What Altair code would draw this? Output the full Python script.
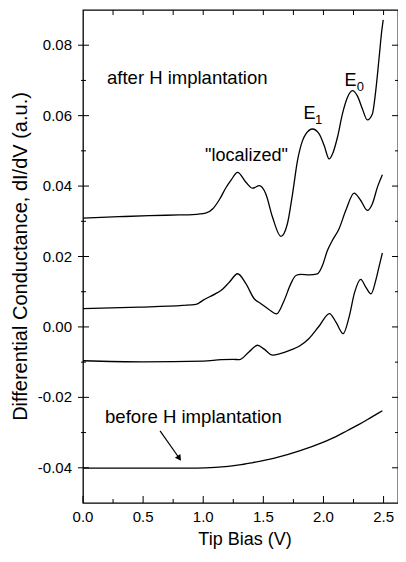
import altair as alt
import pandas as pd

# ---- data: tip bias (V) vs dI/dV (a.u.) ----
after_bias = [0.0, 0.3, 0.55, 0.8, 0.91, 1.02, 1.078, 1.13, 1.19, 1.23, 1.286, 1.355, 1.41, 1.466,
              1.52, 1.576, 1.646, 1.70, 1.743, 1.784, 1.826, 1.854, 1.909, 1.964, 2.006, 2.047,
              2.075, 2.116, 2.158, 2.20, 2.241, 2.282, 2.324, 2.365, 2.407, 2.435, 2.463, 2.485, 2.497]
after_didv = [0.0309, 0.0313, 0.0316, 0.0318, 0.0319, 0.0323, 0.0335, 0.0359, 0.0396, 0.0416, 0.0439,
              0.0411, 0.0394, 0.0401, 0.0378, 0.0312, 0.0257, 0.0293, 0.0378, 0.0472, 0.0529, 0.0548,
              0.0562, 0.0548, 0.0515, 0.0477, 0.0491, 0.0538, 0.0605, 0.0652, 0.0671, 0.0656, 0.0619,
              0.0588, 0.0605, 0.0671, 0.0765, 0.0841, 0.0872]

mid_bias = [0.0, 0.47, 0.83, 0.94, 1.0, 1.1, 1.15, 1.217, 1.286, 1.355, 1.424, 1.48, 1.549, 1.61,
            1.674, 1.729, 1.771, 1.812, 1.881, 1.95, 1.992, 2.033, 2.075, 2.13, 2.186, 2.255, 2.31,
            2.365, 2.407, 2.449, 2.49]
mid_didv = [0.0052, 0.0056, 0.0061, 0.0064, 0.0076, 0.0094, 0.0104, 0.0127, 0.0151, 0.0123, 0.0080,
            0.0066, 0.0049, 0.0037, 0.0076, 0.0123, 0.0146, 0.0149, 0.0148, 0.0151, 0.0175, 0.0217,
            0.0246, 0.0279, 0.0331, 0.0380, 0.0359, 0.0331, 0.0350, 0.0397, 0.0432]

low_bias = [0.0, 0.5, 1.0, 1.15, 1.25, 1.3, 1.38, 1.452, 1.507, 1.576, 1.646, 1.729, 1.798, 1.88,
            1.963, 2.05, 2.105, 2.164, 2.213, 2.259, 2.31, 2.352, 2.396, 2.435, 2.463, 2.49]
low_didv = [-0.0096, -0.0099, -0.0097, -0.0093, -0.0092, -0.0093, -0.0071, -0.0052, -0.0063, -0.0080,
            -0.0075, -0.0065, -0.0055, -0.0033, 0.0002, 0.0038, 0.0013, -0.0019, 0.0028, 0.0098,
            0.0135, 0.0113, 0.0094, 0.0132, 0.0172, 0.0210]

before_bias = [0.0, 0.5, 0.95, 1.1, 1.3, 1.4, 1.6, 1.8, 2.0, 2.1, 2.2, 2.3, 2.4, 2.49]
before_didv = [-0.0401, -0.0401, -0.0401, -0.0399, -0.0392, -0.0386, -0.0372, -0.0352, -0.0327,
               -0.0312, -0.0294, -0.0276, -0.0256, -0.0238]

# tick values and tick labels
x_major = [0.0, 0.5, 1.0, 1.5, 2.0, 2.5]
x_labels = ["0.0", "0.5", "1.0", "1.5", "2.0", "2.5"]
x_minor = [0.25, 0.75, 1.25, 1.75, 2.25]
y_major = [-0.04, -0.02, 0.0, 0.02, 0.04, 0.06, 0.08]
y_labels = ["-0.04", "-0.02", "0.00", "0.02", "0.04", "0.06", "0.08"]
y_minor = [-0.03, -0.01, 0.01, 0.03, 0.05, 0.07]

x_title = "Tip Bias (V)"
y_title = "Differential Conductance, dI/dV (a.u.)"

# annotations
ann_text = ["after H implantation", '"localized"', "E", "E", "before H implantation"]
ann_x = [0.20, 1.015, 1.833, 2.175, 0.183]
ann_y = [0.0690, 0.0470, 0.0590, 0.0685, -0.0272]
ann_size = [18.5, 18, 18, 18, 18.6]
sub_text = ["1", "0"]
sub_x = [1.930, 2.277]
sub_y = [0.0575, 0.0670]
arrow_x = [0.641, 0.801]
arrow_y = [-0.0295, -0.0373]

FONT = "Liberation Sans"
W, H = 315, 493

rows = []
for name, bx, dy in [("after", after_bias, after_didv), ("mid", mid_bias, mid_didv),
                     ("low", low_bias, low_didv), ("before", before_bias, before_didv)]:
    for i, (a, b) in enumerate(zip(bx, dy)):
        rows.append({"trace": name, "order": i, "bias": a, "didv": b})
curves = pd.DataFrame(rows)

xs = alt.Scale(domain=[0, 2.62], nice=False, zero=False)
ys = alt.Scale(domain=[-0.05, 0.09], nice=False, zero=False)

def X(f):
    return alt.X(f, scale=xs, axis=None)

def Y(f):
    return alt.Y(f, scale=ys, axis=None)

lines = alt.Chart(curves).mark_line(color="black", strokeWidth=1.3, interpolate="monotone").encode(
    x=X("bias:Q"), y=Y("didv:Q"), detail="trace:N", order="order:Q")

xmaj = pd.DataFrame({"t": x_major, "label": x_labels})
xmin = pd.DataFrame({"t": x_minor})
ymaj = pd.DataFrame({"t": y_major, "label": y_labels})
ymin = pd.DataFrame({"t": y_minor})
xall = pd.DataFrame({"t": sorted(x_major[1:] + x_minor)})

def xtick(df, y0, y1):
    return alt.Chart(df).mark_rule(color="black", strokeWidth=1).encode(
        x=X("t:Q"), y=alt.value(y0), y2=alt.value(y1))

def ytick(df, x0, x1):
    return alt.Chart(df).mark_rule(color="black", strokeWidth=1).encode(
        y=Y("t:Q"), x=alt.value(x0), x2=alt.value(x1))

ticks = [
    xtick(xmaj, H, H - 7), xtick(xmin, H, H - 4),
    xtick(xall, 0, 5),
    ytick(ymaj, -5, 6), ytick(ymin, -2, 3),
    ytick(ymaj, W, W - 6), ytick(ymin, W, W - 3),
]

xlab = alt.Chart(xmaj).mark_text(align="center", baseline="alphabetic", font=FONT, fontSize=15,
                                 color="black").encode(
    x=X("t:Q"), y=alt.value(H + 19), text="label:N")
ylab = alt.Chart(ymaj).mark_text(align="right", baseline="middle", font=FONT, fontSize=15,
                                 color="black").encode(
    y=Y("t:Q"), x=alt.value(-11), text="label:N")

xtitle = alt.Chart(pd.DataFrame({"text": [x_title]})).mark_text(
    align="center", baseline="alphabetic", font=FONT, fontSize=18, color="black").encode(
    x=alt.value(162), y=alt.value(H + 42), text="text:N")
ytitle = alt.Chart(pd.DataFrame({"text": [y_title]})).mark_text(
    align="center", baseline="alphabetic", font=FONT, fontSize=20, color="black", angle=270).encode(
    x=alt.value(-56), y=alt.value(H / 2), text="text:N")

ann_df = pd.DataFrame({"text": ann_text, "x": ann_x, "y": ann_y, "s": ann_size})
ann = alt.Chart(ann_df).mark_text(align="left", baseline="alphabetic", font=FONT,
                                  color="black").encode(
    x=X("x:Q"), y=Y("y:Q"), text="text:N", size=alt.Size("s:Q", scale=None, legend=None))

sub_df = pd.DataFrame({"text": sub_text, "x": sub_x, "y": sub_y})
sub = alt.Chart(sub_df).mark_text(align="left", baseline="alphabetic", font=FONT, fontSize=13,
                                  color="black").encode(
    x=X("x:Q"), y=Y("y:Q"), text="text:N")

arrow_df = pd.DataFrame({"x": arrow_x, "y": arrow_y, "o": [0, 1]})
arrow_line = alt.Chart(arrow_df).mark_line(color="black", strokeWidth=1.2).encode(
    x=X("x:Q"), y=Y("y:Q"), order="o:Q")
arrow_head = alt.Chart(arrow_df.iloc[[1]]).mark_point(
    shape="triangle-up", filled=True, color="black", size=45, angle=145, opacity=1).encode(
    x=X("x:Q"), y=Y("y:Q"))

chart = alt.layer(lines, *ticks, xlab, ylab, xtitle, ytitle, ann, sub, arrow_line,
                  arrow_head).properties(
    width=W, height=H, autosize="none",
    padding={"left": 75, "top": 2, "right": 0, "bottom": 49},
).configure(
    background="white",
    view=alt.ViewConfig(stroke="black", strokeWidth=1.3),
)

chart.save("out.html", embed_options={"renderer": "svg", "actions": False})
